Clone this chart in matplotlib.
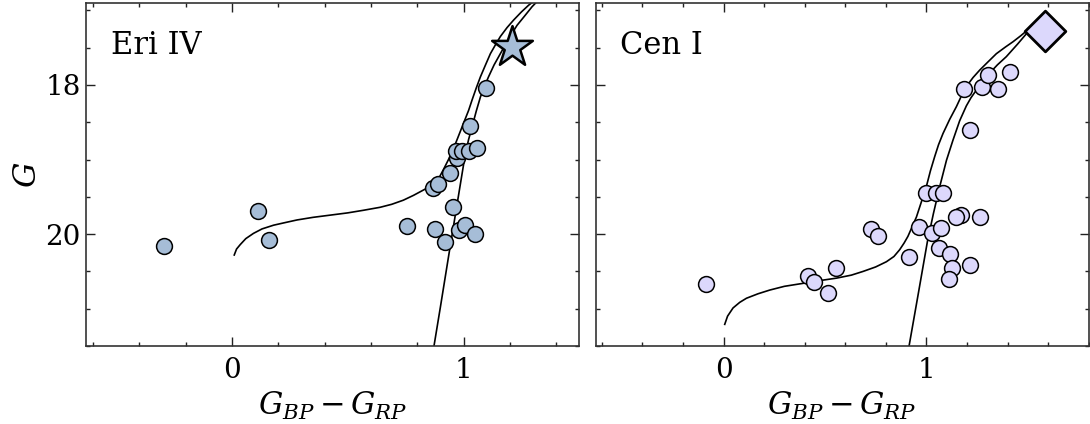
import numpy as np
import matplotlib
matplotlib.use("Agg")
import matplotlib.pyplot as plt
from matplotlib.ticker import MultipleLocator

plt.rcParams['font.family'] = ['DejaVu Serif']
plt.rcParams['mathtext.fontset'] = 'dejavuserif'

# ---------------- Eri IV ----------------
eri_color = [-0.295, 0.111, 0.160, 0.756, 0.877, 0.921, 0.953, 0.982, 1.008, 1.051,
             0.867, 0.890, 0.943, 0.972, 0.967, 0.993, 1.022, 1.058, 1.026, 1.096]
eri_g = [20.16, 19.69, 20.08, 19.89, 19.93, 20.11, 19.64, 19.95, 19.88, 20.00,
         19.38, 19.33, 19.18, 18.98, 18.89, 18.89, 18.88, 18.84, 18.55, 18.04]
eri_star_color = [1.209]
eri_star_g = [17.49]

eri_hb_color = [0.010, 0.020, 0.036, 0.060, 0.093, 0.130, 0.180, 0.230, 0.281, 0.350,
                0.425, 0.500, 0.568, 0.640, 0.690, 0.740, 0.784, 0.820, 0.850, 0.871,
                0.895, 0.914, 0.935, 0.957, 0.975, 0.994, 1.008, 1.022, 1.037, 1.055,
                1.073, 1.095, 1.116, 1.138, 1.159, 1.188, 1.216, 1.250, 1.281, 1.302]
eri_hb_g = [20.28, 20.20, 20.14, 20.06, 19.99, 19.93, 19.88, 19.845, 19.81, 19.775,
            19.745, 19.715, 19.68, 19.64, 19.60, 19.545, 19.48, 19.42, 19.37, 19.33,
            19.24, 19.13, 19.00, 18.85, 18.71, 18.56, 18.45, 18.34, 18.20, 18.04,
            17.89, 17.73, 17.58, 17.46, 17.35, 17.23, 17.13, 17.02, 16.93, 16.88]
eri_rgb_color = [0.873, 0.900, 0.940, 0.961, 0.980, 1.008, 1.022, 1.037, 1.055, 1.073,
                 1.090, 1.108, 1.132, 1.159, 1.195, 1.231, 1.265, 1.296, 1.324]
eri_rgb_g = [21.49, 20.98, 20.21, 19.81, 19.45, 18.92, 18.73, 18.56, 18.35, 18.16,
             18.02, 17.89, 17.73, 17.58, 17.38, 17.20, 17.07, 16.95, 16.86]

# ---------------- Cen I ----------------
cen_color = [-0.086, 0.417, 0.445, 0.514, 0.555, 0.729, 0.763, 0.916, 0.964, 1.000,
             1.049, 1.082, 1.030, 1.074, 1.064, 1.118, 1.126, 1.113, 1.172, 1.148,
             1.217, 1.263, 1.213, 1.185, 1.276, 1.303, 1.353, 1.410]
cen_g = [20.67, 20.56, 20.64, 20.79, 20.45, 19.93, 20.03, 20.31, 19.90, 19.45,
         19.45, 19.45, 19.99, 19.92, 20.19, 20.27, 20.45, 20.60, 19.74, 19.77,
         20.41, 19.77, 18.60, 18.05, 18.03, 17.87, 18.06, 17.83]
cen_diamond_color = [1.583]
cen_diamond_g = [17.28]

cen_hb_color = [0.006, 0.020, 0.047, 0.080, 0.113, 0.170, 0.228, 0.300, 0.392, 0.470,
                0.557, 0.630, 0.688, 0.750, 0.803, 0.840, 0.868, 0.890, 0.909, 0.930,
                0.951, 0.975, 1.000, 1.020, 1.041, 1.060, 1.082, 1.115, 1.148, 1.172,
                1.197, 1.230, 1.263, 1.300, 1.345, 1.390, 1.427, 1.465, 1.500, 1.540]
cen_hb_g = [21.21, 21.10, 20.99, 20.915, 20.86, 20.80, 20.75, 20.70, 20.66, 20.625,
            20.59, 20.55, 20.50, 20.44, 20.37, 20.30, 20.21, 20.12, 20.03, 19.90,
            19.77, 19.57, 19.36, 19.15, 18.96, 18.80, 18.65, 18.46, 18.29, 18.15,
            18.02, 17.90, 17.80, 17.70, 17.58, 17.49, 17.42, 17.34, 17.26, 17.20]
cen_rgb_color = [0.914, 0.960, 1.005, 1.035, 1.066, 1.099, 1.131, 1.164, 1.197, 1.220,
                 1.246, 1.280, 1.312, 1.350, 1.394, 1.450, 1.500, 1.540]
cen_rgb_g = [21.51, 20.80, 20.10, 19.72, 19.36, 19.01, 18.74, 18.48, 18.28, 18.17,
             18.07, 17.95, 17.84, 17.73, 17.62, 17.45, 17.29, 17.20]

fig = plt.figure(figsize=(10.9, 4.24), dpi=100)
ax1 = fig.add_axes([0.0789, 0.184, 0.4526, 0.809])
ax2 = fig.add_axes([0.5465, 0.184, 0.4523, 0.809])

eri_fc = '#a6bdd7'
cen_fc = '#dcd8fc'

def style(ax, xlim):
    ax.set_xlim(*xlim)
    ax.set_ylim(21.5, 16.9)
    ax.xaxis.set_major_locator(MultipleLocator(1))
    ax.xaxis.set_minor_locator(MultipleLocator(0.2))
    ax.yaxis.set_major_locator(MultipleLocator(2))
    ax.yaxis.set_minor_locator(MultipleLocator(0.5))
    ax.tick_params(which='both', direction='in', top=True, right=True,
                   labelsize=20, width=1.0, color='#222222')
    ax.tick_params(which='major', length=6.5)
    ax.tick_params(axis='x', which='major', pad=8)
    ax.tick_params(axis='y', which='major', pad=4)
    ax.tick_params(which='minor', length=3)
    for s in ax.spines.values():
        s.set_linewidth(1.2)
        s.set_color('#333333')
    ax.set_xlabel(r'$G_{BP} - G_{RP}$', fontsize=22, labelpad=4)

# Left panel
ax1.plot(eri_hb_color, eri_hb_g, color='black', lw=1.2, zorder=2)
ax1.plot(eri_rgb_color, eri_rgb_g, color='black', lw=1.2, zorder=2)
ax1.scatter(eri_color, eri_g, s=130, facecolor=eri_fc, edgecolor='black',
            linewidth=1.1, zorder=3)
ax1.scatter(eri_star_color, eri_star_g, marker='*', s=950, facecolor=eri_fc,
            edgecolor='black', linewidth=1.8, zorder=4)
ax1.text(0.05, 0.875, 'Eri IV', transform=ax1.transAxes, fontsize=22,
         ha='left', va='center')
style(ax1, (-0.63, 1.5))
ax1.set_ylabel(r'$G$', fontsize=23, labelpad=1.5)

# Right panel
ax2.plot(cen_hb_color, cen_hb_g, color='black', lw=1.2, zorder=2)
ax2.plot(cen_rgb_color, cen_rgb_g, color='black', lw=1.2, zorder=2)
ax2.scatter(cen_color, cen_g, s=130, facecolor=cen_fc, edgecolor='black',
            linewidth=1.1, zorder=3)
ax2.scatter(cen_diamond_color, cen_diamond_g, marker='D', s=430, facecolor=cen_fc,
            edgecolor='black', linewidth=2.0, zorder=4)
ax2.text(0.05, 0.875, 'Cen I', transform=ax2.transAxes, fontsize=22,
         ha='left', va='center')
style(ax2, (-0.63, 1.8))
ax2.tick_params(labelleft=False)

fig.savefig('out.png', dpi=100)
